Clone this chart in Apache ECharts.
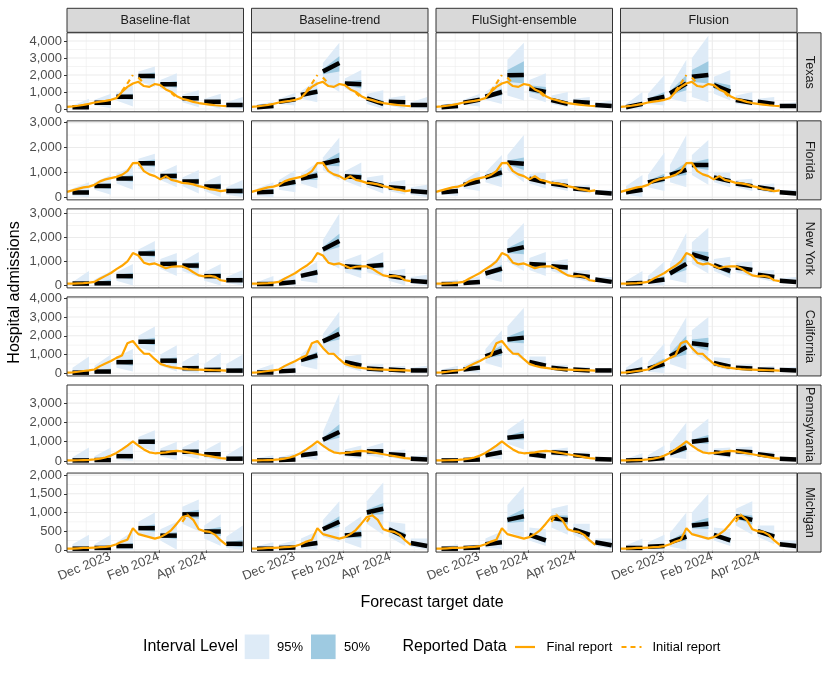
<!DOCTYPE html>
<html><head><meta charset="utf-8">
<script src="https://cdn.jsdelivr.net/npm/echarts@6/dist/echarts.min.js"></script>
<style>html,body{margin:0;padding:0;background:#fff}#c{width:830px;height:675px}</style>
</head><body><div id="c"></div>
<script>
// ---------------- DATA ----------------
const models = ['Baseline-flat', 'Baseline-trend', 'FluSight-ensemble', 'Flusion'];
const states = ['Texas', 'Florida', 'New York', 'California', 'Pennsylvania', 'Michigan'];

const weeks = ['2023-10-07','2023-10-14','2023-10-21','2023-10-28','2023-11-04','2023-11-11','2023-11-18','2023-11-25',
  '2023-12-02','2023-12-09','2023-12-16','2023-12-23','2023-12-30','2024-01-06','2024-01-13','2024-01-20','2024-01-27',
  '2024-02-03','2024-02-10','2024-02-17','2024-02-24','2024-03-02','2024-03-09','2024-03-16','2024-03-23','2024-03-30',
  '2024-04-06','2024-04-13','2024-04-20','2024-04-27'];
const fcStart = ['2023-10-14','2023-11-11','2023-12-09','2024-01-06','2024-02-03','2024-03-02','2024-03-30','2024-04-27'];
const fcEnd   = ['2023-11-04','2023-12-02','2023-12-30','2024-01-27','2024-02-24','2024-03-23','2024-04-20','2024-05-18'];

// Final report (weekly hospital admissions)
const finalTX = [120,150,190,240,300,380,430,480,540,640,1000,1300,1500,1600,1350,1300,1470,1400,1150,1000,750,600,520,420,350,300,260,220,190,170];
const finalFL = [220,280,340,400,430,500,640,720,770,820,900,1050,1370,1380,1050,920,850,720,850,700,650,580,560,520,450,400,330,300,250,280];
const finalNY = [80,80,90,100,120,150,280,400,520,680,820,1000,1350,1250,950,880,920,820,720,780,800,800,700,550,420,380,400,360,220,180];
const finalCA = [30,50,80,120,150,200,380,520,650,820,950,1600,1720,1350,1050,1030,750,500,400,330,290,250,220,200,190,180,170,160,150,140];
const finalPA = [30,30,40,50,60,80,120,180,280,420,600,800,1020,800,600,450,400,420,450,500,520,500,450,400,350,300,250,200,150,120];
const finalMI = [30,30,40,50,50,60,70,80,100,150,220,270,580,420,380,340,300,340,420,530,700,880,920,800,550,500,480,400,250,130];

// Initial report snippets (dashed)
const initialTX = [
  [['2023-12-16',1050],['2023-12-23',1500],['2023-12-30',2000]],
  [['2024-01-06',1850],['2024-01-13',1500]],
  [['2024-02-17',950],['2024-02-24',650]]
];
const initialMI = [
  [['2024-03-02',750],['2024-03-09',960]]
];
const initialFL = [], initialNY = [], initialCA = [], initialPA = [];

// Forecasts: [median start, median end, 95lo start, 95hi start, 95lo end, 95hi end, 50lo start, 50hi start, 50lo end, 50hi end]
const TX_flat = [[100,100,0,200,0,600,60,140,30,250],[370,370,200,550,50,900,320,420,250,500],[720,720,500,950,150,1400,650,800,550,900],[1940,1940,1650,2200,1300,2500,1850,2030,1750,2150],[1450,1450,1200,1700,900,2100,1380,1520,1250,1650],[630,630,400,850,100,1100,570,690,480,780],[430,430,250,600,0,900,380,480,300,560],[240,240,100,400,0,700,200,280,130,350]];
const TX_trend = [[100,180,0,250,0,450,70,140,100,260],[430,570,300,600,200,950,380,480,450,700],[820,1020,600,1050,400,1700,750,900,850,1200],[2200,2700,1600,2700,1000,3900,2050,2350,2200,3100],[1500,1450,1200,1800,800,2300,1400,1600,1200,1700],[630,300,300,900,0,1100,550,700,150,500],[430,400,200,650,0,800,380,480,300,500],[240,240,100,400,0,700,200,280,150,330]];
const TX_ens = [[100,180,30,250,0,400,80,130,120,250],[370,550,250,550,150,900,330,430,450,650],[720,1000,550,1000,300,1700,650,800,800,1200],[1980,2000,800,2900,500,3900,1600,2300,1500,2800],[1200,1000,700,1700,400,2100,1000,1400,800,1300],[530,300,300,800,100,1000,450,620,200,450],[430,370,250,600,150,700,380,480,300,450],[240,180,150,350,50,500,210,280,130,250]];
const TX_flusion = [[100,300,0,300,0,1000,60,150,150,450],[500,720,300,900,200,2000,420,600,500,1000],[920,1500,600,1300,400,2900,800,1050,1100,2000],[1900,2000,700,3000,400,4300,1600,2300,1500,2800],[1400,1020,900,1900,500,2300,1200,1600,800,1400],[530,370,300,800,200,1000,460,620,280,500],[430,300,250,600,100,700,380,480,220,400],[180,180,100,300,50,400,150,220,130,250]];

const FL_flat = [[190,190,50,350,0,600,150,230,100,300],[450,450,300,600,100,900,400,500,330,570],[760,760,550,950,300,1250,700,820,620,900],[1370,1370,1150,1550,950,1750,1300,1440,1230,1520],[860,860,700,1000,400,1300,810,910,720,1000],[630,630,450,800,150,1100,580,680,500,760],[430,430,250,600,0,900,380,480,300,560],[250,250,100,400,0,700,200,300,130,370]];
const FL_trend = [[200,220,50,350,0,600,150,250,120,330],[500,620,300,700,200,1100,450,560,480,760],[750,880,550,950,350,1400,700,820,700,1050],[1350,1500,1100,1600,700,2400,1280,1430,1250,1800],[850,800,650,1050,400,1400,800,900,650,950],[600,450,400,800,150,900,550,650,350,550],[400,350,250,600,100,700,360,450,270,430],[250,200,100,400,0,500,210,290,140,270]];
const FL_ens = [[200,250,100,300,50,500,170,230,180,320],[500,650,350,650,250,1100,460,550,550,780],[800,1000,600,1000,400,1700,740,870,850,1200],[1400,1350,1100,1700,600,2500,1320,1480,1100,1600],[750,600,550,950,350,1000,700,800,500,700],[550,450,400,700,250,750,510,590,380,520],[350,300,250,450,150,500,320,380,250,350],[200,150,120,280,50,300,180,220,110,190]];
const FL_flusion = [[200,300,100,450,0,900,170,240,220,400],[600,750,400,900,250,1800,540,670,600,950],[900,1100,600,1300,400,2500,820,980,900,1400],[1300,1300,900,1700,500,2300,1200,1400,1100,1550],[800,650,600,1000,400,1000,740,860,550,750],[550,450,400,700,250,750,510,590,380,520],[400,300,280,500,150,550,360,440,250,360],[200,150,120,280,50,300,180,220,110,190]];

const NY_flat = [[80,80,0,150,0,600,60,100,30,200],[90,90,0,250,0,600,60,130,30,250],[390,390,200,550,0,900,340,440,250,530],[1330,1330,1100,1500,900,1850,1270,1400,1180,1500],[900,900,700,1100,400,1350,850,950,750,1050],[830,830,600,1000,350,1400,780,880,680,980],[390,390,200,550,0,900,340,440,250,530],[220,220,100,350,0,650,180,260,120,330]];
const NY_trend = [[60,60,0,150,0,400,40,90,20,150],[80,150,0,250,0,500,60,110,90,220],[400,550,200,600,100,1000,350,450,430,680],[1500,1850,1100,1900,700,3000,1400,1600,1600,2150],[800,750,550,1050,300,1300,740,860,600,900],[800,850,550,1050,350,1400,740,860,720,980],[400,300,200,600,0,700,350,450,220,380],[200,150,80,350,0,450,160,240,100,220]];
const NY_ens = [[60,60,20,120,0,250,45,80,35,100],[100,150,50,200,20,400,80,120,100,210],[500,700,300,700,150,1300,440,560,550,860],[1450,1600,1000,1900,600,2600,1350,1550,1300,1900],[900,850,650,1150,400,1400,830,970,700,1000],[800,750,600,1000,400,1100,750,850,630,870],[450,350,300,600,150,650,400,500,280,420],[250,150,150,350,50,350,220,280,110,200]];
const NY_flusion = [[80,100,20,200,0,600,60,110,60,180],[150,250,50,400,0,1000,110,200,150,400],[500,900,250,900,100,2200,420,600,650,1300],[1300,1100,900,1800,500,2400,1200,1450,900,1400],[850,600,600,1100,300,1200,780,920,450,750],[750,650,550,950,350,1000,700,800,550,750],[450,350,300,600,150,650,400,500,280,420],[200,150,100,300,50,350,170,230,110,200]];

const CA_flat = [[30,30,0,300,0,900,10,60,0,150],[90,90,0,400,0,1000,50,140,20,250],[590,590,300,850,100,1300,520,660,400,780],[1680,1680,1400,2000,1100,2500,1600,1760,1500,1900],[670,670,400,1000,100,1500,600,750,480,850],[270,270,100,600,0,1100,220,330,150,420],[180,180,50,500,0,1100,130,230,60,330],[140,140,50,500,0,1000,100,190,50,300]];
const CA_trend = [[40,40,0,200,0,500,20,70,10,120],[100,150,0,300,0,600,70,140,80,250],[700,950,400,1000,200,1700,620,780,750,1150],[1700,2100,1300,2100,900,3300,1600,1800,1800,2500],[600,400,350,900,100,1000,530,680,280,550],[250,200,100,450,0,500,210,290,120,280],[200,150,80,350,0,400,160,240,90,220],[150,150,50,300,0,400,120,190,80,220]];
const CA_ens = [[50,100,0,200,0,400,30,80,60,150],[200,300,80,400,20,800,160,250,200,420],[900,1200,550,1300,300,2300,800,1000,950,1500],[1800,1900,1200,2500,700,3500,1650,1950,1600,2300],[600,400,400,900,200,900,540,680,300,520],[300,200,180,450,80,450,260,340,150,270],[200,150,120,320,50,350,170,230,100,200],[150,150,80,250,30,300,130,180,100,200]];
const CA_flusion = [[50,200,0,300,0,900,30,100,100,350],[250,500,80,600,0,1600,180,330,300,800],[900,1400,500,1500,200,3000,780,1050,1000,2000],[1600,1500,1100,2300,600,3000,1450,1800,1200,1900],[550,350,350,850,150,800,490,630,250,470],[300,250,180,450,100,500,260,340,190,320],[200,180,120,320,60,400,170,230,130,240],[180,150,100,280,50,350,150,210,100,200]];

const PA_flat = [[30,30,0,200,0,700,10,60,0,150],[50,50,0,250,0,700,20,90,0,180],[250,250,80,450,0,900,200,300,130,380],[1000,1000,750,1250,500,1600,930,1070,850,1150],[420,420,250,650,50,1000,370,470,300,550],[480,480,300,700,100,1100,430,530,350,620],[350,350,180,550,0,1000,300,400,230,480],[120,120,20,300,0,800,90,160,50,250]];
const PA_trend = [[30,30,0,150,0,300,15,50,10,80],[50,80,0,200,0,400,30,80,40,150],[300,400,150,500,50,900,260,350,300,520],[1100,1500,700,1500,400,3500,1000,1200,1200,1900],[400,350,250,600,100,800,360,450,250,450],[500,500,300,700,150,950,450,550,400,620],[350,300,200,500,50,600,310,390,220,380],[120,80,40,250,0,300,100,150,50,130]];
const PA_ens = [[30,30,10,80,0,150,20,45,15,60],[50,80,20,130,0,250,40,70,50,120],[300,450,150,500,80,1000,260,350,350,580],[1200,1300,900,1600,600,2200,1100,1300,1100,1550],[350,250,200,550,100,550,310,400,180,330],[450,400,300,600,200,700,410,490,320,480],[300,250,200,420,100,450,270,330,190,310],[100,80,50,180,20,200,85,120,60,110]];
const PA_flusion = [[30,50,0,120,0,400,20,50,30,90],[80,150,20,300,0,800,60,110,100,250],[400,700,200,900,100,2000,340,480,500,1000],[1000,1100,700,1500,400,2200,920,1100,900,1350],[450,350,300,650,150,700,410,500,270,430],[500,450,350,700,200,750,460,550,380,530],[350,250,220,480,100,450,310,390,200,320],[120,80,60,200,20,200,100,140,60,110]];

const MI_flat = [[30,30,0,150,0,400,15,50,0,100],[50,50,0,150,0,400,30,75,10,120],[100,100,0,200,0,500,70,130,40,180],[580,580,400,750,300,1000,540,620,480,680],[380,380,250,550,0,750,340,420,280,480],[950,950,700,1150,500,1350,900,1000,830,1070],[490,490,300,650,100,950,440,540,370,610],[160,160,50,350,0,650,120,200,70,260]];
const MI_trend = [[30,30,0,100,0,200,15,50,10,70],[50,60,0,150,0,250,30,75,30,100],[120,180,30,300,0,500,90,150,120,250],[550,750,350,800,200,1300,500,620,620,900],[380,420,200,600,50,900,330,430,320,520],[1000,1100,700,1300,400,1800,930,1070,950,1250],[550,350,350,750,100,700,500,600,250,450],[180,100,80,300,0,300,150,210,60,150]];
const MI_ens = [[30,30,10,80,0,150,20,45,15,60],[50,60,20,100,0,150,40,65,40,85],[150,200,50,300,20,500,120,180,140,270],[800,900,500,1200,300,1700,720,880,750,1100],[400,250,250,600,100,550,350,450,180,330],[850,800,600,1100,400,1200,800,920,680,920],[550,400,400,700,200,700,500,600,320,480],[200,120,100,300,30,300,170,230,80,160]];
const MI_flusion = [[50,50,0,120,0,300,30,70,20,90],[80,100,20,200,0,400,60,110,60,150],[200,350,80,450,0,1000,160,250,250,500],[650,700,400,1000,250,1500,580,730,560,860],[400,250,250,600,100,550,350,450,180,330],[900,800,650,1100,400,1300,840,960,680,920],[500,350,350,650,150,650,450,550,270,430],[150,100,80,250,20,250,130,180,70,140]];

// Axis tick labels
const xTickDates = ['2023-12-01','2024-02-01','2024-04-01'];
const xTickLabels = ['Dec 2023','Feb 2024','Apr 2024'];
const xMinorDates = ['2023-10-31T12:00:00','2024-01-01','2024-03-02','2024-05-01T12:00:00'];
const yTicksTX = [0,1000,2000,3000,4000];
const yTicksFL = [0,1000,2000,3000];
const yTicksNY = [0,1000,2000,3000];
const yTicksCA = [0,1000,2000,3000,4000];
const yTicksPA = [0,1000,2000,3000];
const yTicksMI = [0,500,1000,1500,2000];
const yMinorTX = [500,1500,2500,3500];
const yMinorFL = [500,1500,2500];
const yMinorNY = [500,1500,2500];
const yMinorCA = [500,1500,2500,3500];
const yMinorPA = [500,1500,2500,3500];
const yMinorMI = [250,750,1250,1750];

// ---------------- ASSEMBLY ----------------
const toT = s => Date.parse(s.length === 10 ? s + 'T00:00:00Z' : s + 'Z');
const xMin = toT('2023-10-07'), xMax = toT('2024-05-19');
const yLimits = [[-165, 4480], [-102, 3070], [-100, 3190], [-144, 4070], [-155, 3938], [-60, 2055]];
const finals = [finalTX, finalFL, finalNY, finalCA, finalPA, finalMI];
const initials = [initialTX, initialFL, initialNY, initialCA, initialPA, initialMI];
const yTicks = [yTicksTX, yTicksFL, yTicksNY, yTicksCA, yTicksPA, yTicksMI];
const yMinors = [yMinorTX, yMinorFL, yMinorNY, yMinorCA, yMinorPA, yMinorMI];
const fc = [
  [TX_flat, TX_trend, TX_ens, TX_flusion],
  [FL_flat, FL_trend, FL_ens, FL_flusion],
  [NY_flat, NY_trend, NY_ens, NY_flusion],
  [CA_flat, CA_trend, CA_ens, CA_flusion],
  [PA_flat, PA_trend, PA_ens, PA_flusion],
  [MI_flat, MI_trend, MI_ens, MI_flusion]
];

const FONT = '"Liberation Sans", Arial, Helvetica, sans-serif';
const AX = 13, STRIP = 12.6, TITLE = 16, LEG = 13;
const PL = 67, PW = 176.5, PG = 8, PT = 32.8, PH = 79, RG = 9.05;
const fmtNum = v => String(v).replace(/\B(?=(\d{3})+(?!\d))/g, ',');
const xLabelMap = {};
xTickDates.forEach((d, i) => { xLabelMap[toT(d)] = xTickLabels[i]; });

const grids = [], xAxes = [], yAxes = [], series = [], graphics = [];
let gi = 0;
for (let r = 0; r < 6; r++) {
  for (let c = 0; c < 4; c++) {
    const left = PL + c * (PW + PG), top = PT + r * (PH + RG);
    grids.push({ left: left, top: top, width: PW, height: PH, show: false });
    const bottomRow = r === 5, firstCol = c === 0;
    xAxes.push({
      gridIndex: gi, type: 'value', min: xMin, max: xMax,
      axisLine: { show: false }, splitLine: { show: false },
      axisTick: { show: bottomRow, length: 3, lineStyle: { color: '#333', width: 1 }, customValues: xTickDates.map(toT) },
      axisLabel: { show: bottomRow, customValues: xTickDates.map(toT), formatter: v => xLabelMap[v] || '',
        rotate: 22, margin: 4, color: '#4D4D4D', fontSize: AX, fontFamily: FONT }
    });
    yAxes.push({
      gridIndex: gi, type: 'value', min: yLimits[r][0], max: yLimits[r][1],
      axisLine: { show: false }, splitLine: { show: false },
      axisTick: { show: firstCol, length: 3, lineStyle: { color: '#333', width: 1 }, customValues: yTicks[r] },
      axisLabel: { show: firstCol, customValues: yTicks[r], formatter: v => fmtNum(v), margin: 5,
        color: '#4D4D4D', fontSize: AX, fontFamily: FONT }
    });
    const gl = [];
    xMinorDates.forEach(d => gl.push([0, toT(d), 0]));
    xTickDates.forEach(d => gl.push([0, toT(d), 1]));
    yMinors[r].forEach(v => gl.push([1, v, 0]));
    yTicks[r].forEach(v => gl.push([1, v, 1]));
    series.push({
      type: 'custom', xAxisIndex: gi, yAxisIndex: gi, silent: true, z: 1, clip: true,
      data: gl,
      renderItem: (params, api) => {
        const cs = params.coordSys; const kind = api.value(0), v = api.value(1), major = api.value(2);
        const lw = major ? 1.1 : 0.55;
        if (kind === 0) {
          const x = api.coord([v, 0])[0];
          return { type: 'line', shape: { x1: x, y1: cs.y, x2: x, y2: cs.y + cs.height }, style: { stroke: '#EBEBEB', lineWidth: lw } };
        }
        const y = api.coord([xMin, v])[1];
        return { type: 'line', shape: { x1: cs.x, y1: y, x2: cs.x + cs.width, y2: y }, style: { stroke: '#EBEBEB', lineWidth: lw } };
      }
    });
    const rows = fc[r][c];
    const band = (i0, color, z) => ({
      type: 'custom', xAxisIndex: gi, yAxisIndex: gi, silent: true, z: z, clip: true,
      data: rows.map((q, i) => [toT(fcStart[i]), toT(fcEnd[i]), q[i0], q[i0 + 1], q[i0 + 2], q[i0 + 3]]),
      renderItem: (params, api) => {
        const t0 = api.value(0), t1 = api.value(1);
        const pts = [api.coord([t0, api.value(2)]), api.coord([t1, api.value(4)]), api.coord([t1, api.value(5)]), api.coord([t0, api.value(3)])];
        return { type: 'polygon', shape: { points: pts }, style: { fill: color } };
      }
    });
    series.push(band(2, '#DEEBF7', 2));
    series.push(band(6, '#9ECAE1', 3));
    series.push({
      type: 'custom', xAxisIndex: gi, yAxisIndex: gi, silent: true, z: 4, clip: true,
      data: rows.map((q, i) => [toT(fcStart[i]), toT(fcEnd[i]), q[0], q[1]]),
      renderItem: (params, api) => {
        const a = api.coord([api.value(0), api.value(2)]), b = api.coord([api.value(1), api.value(3)]);
        return { type: 'line', shape: { x1: a[0], y1: a[1], x2: b[0], y2: b[1] }, style: { stroke: '#000', lineWidth: 4.5, lineCap: 'butt' } };
      }
    });
    series.push({
      type: 'line', xAxisIndex: gi, yAxisIndex: gi, silent: true, z: 5, showSymbol: false, symbol: 'none',
      data: weeks.map((d, i) => [toT(d), finals[r][i]]),
      lineStyle: { color: '#FFA500', width: 2.2 }, animation: false
    });
    initials[r].forEach(seg => {
      series.push({
        type: 'line', xAxisIndex: gi, yAxisIndex: gi, silent: true, z: 6, showSymbol: false, symbol: 'none',
        data: seg.map(p => [toT(p[0]), p[1]]),
        lineStyle: { color: '#FFA500', width: 2.2, type: [5, 4] }, animation: false
      });
    });
    graphics.push({ type: 'rect', shape: { x: left, y: top, width: PW, height: PH }, style: { fill: 'none', stroke: '#333', lineWidth: 1 }, z: 100, silent: true });
    gi++;
  }
}
for (let c = 0; c < 4; c++) {
  const left = PL + c * (PW + PG);
  graphics.push({ type: 'rect', shape: { x: left, y: 8.3, width: PW, height: 24 }, style: { fill: '#D9D9D9', stroke: '#333', lineWidth: 1 }, z: 100, silent: true });
  graphics.push({ type: 'text', x: left + PW / 2, y: 20.5, style: { text: models[c], fill: '#1A1A1A', font: STRIP + 'px ' + FONT, textAlign: 'center', textVerticalAlign: 'middle' }, z: 101, silent: true });
}
for (let r = 0; r < 6; r++) {
  const top = PT + r * (PH + RG);
  const sx = PL + 3 * (PW + PG) + PW + 0.5;
  graphics.push({ type: 'rect', shape: { x: sx, y: top, width: 23.5, height: PH }, style: { fill: '#D9D9D9', stroke: '#333', lineWidth: 1 }, z: 100, silent: true });
  graphics.push({ type: 'text', x: sx + 11.75, y: top + PH / 2, rotation: -Math.PI / 2, style: { text: states[r], fill: '#1A1A1A', font: STRIP + 'px ' + FONT, textAlign: 'center', textVerticalAlign: 'middle' }, z: 101, silent: true });
}
graphics.push({ type: 'text', x: 15, y: 292.5, rotation: Math.PI / 2, style: { text: 'Hospital admissions', fill: '#000', font: TITLE + 'px ' + FONT, textAlign: 'center', textVerticalAlign: 'middle' }, z: 101, silent: true });
graphics.push({ type: 'text', x: 432, y: 603, style: { text: 'Forecast target date', fill: '#000', font: TITLE + 'px ' + FONT, textAlign: 'center', textVerticalAlign: 'middle' }, z: 101, silent: true });
const LY = 647;
const legendText = (x, t, size) => ({ type: 'text', x: x, y: LY, style: { text: t, fill: '#000', font: size + 'px ' + FONT, textAlign: 'left', textVerticalAlign: 'middle' }, z: 101, silent: true });
graphics.push(legendText(143, 'Interval Level', TITLE));
graphics.push({ type: 'rect', shape: { x: 244.7, y: 634.5, width: 24.6, height: 24.6 }, style: { fill: '#DEEBF7' }, z: 100, silent: true });
graphics.push(legendText(277, '95%', LEG));
graphics.push({ type: 'rect', shape: { x: 311, y: 634.5, width: 24.6, height: 24.6 }, style: { fill: '#9ECAE1' }, z: 100, silent: true });
graphics.push(legendText(344, '50%', LEG));
graphics.push(legendText(402.5, 'Reported Data', TITLE));
graphics.push({ type: 'line', shape: { x1: 515, y1: 647, x2: 535, y2: 647 }, style: { stroke: '#FFA500', lineWidth: 2.2 }, z: 100, silent: true });
graphics.push(legendText(546.5, 'Final report', LEG));
graphics.push({ type: 'line', shape: { x1: 621.5, y1: 647, x2: 641.5, y2: 647 }, style: { stroke: '#FFA500', lineWidth: 2.2, lineDash: [5, 4] }, z: 100, silent: true });
graphics.push(legendText(652.5, 'Initial report', LEG));

const chart = echarts.init(document.getElementById('c'), null, { renderer: 'canvas' });
chart.setOption({
  animation: false,
  backgroundColor: '#fff',
  grid: grids, xAxis: xAxes, yAxis: yAxes, series: series,
  graphic: { elements: graphics }
});
</script></body></html>
